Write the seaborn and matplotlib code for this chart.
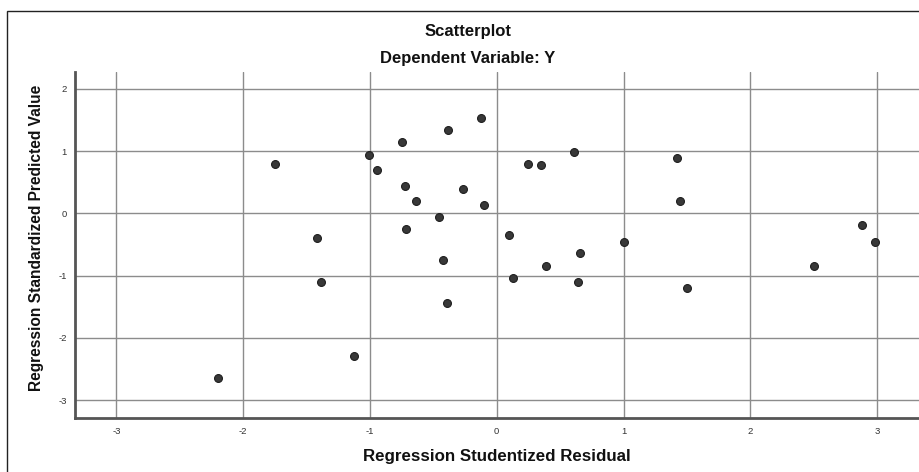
import matplotlib
matplotlib.use("Agg")
import matplotlib.pyplot as plt
import seaborn as sns
import pandas as pd
from matplotlib.patches import Rectangle

# Data
studentized_residual = [
    -1.746, -1.009, -0.944, -0.749, -0.386, -0.726, -0.639, -0.457, -0.713, -1.420,
    -0.268, -0.124, 0.249, 0.349, 0.612, 1.420, 1.448, -0.098, 0.099, 2.879,
    -0.426, -1.386, -0.394, -1.125, -2.196, 1.004, 2.983, 0.660, 0.391, 0.131,
    0.641, 1.503, 2.500,
]
standardized_predicted = [
    0.791, 0.936, 0.695, 1.139, 1.332, 0.443, 0.202, -0.054, -0.247, -0.395,
    0.390, 1.530, 0.791, 0.780, 0.984, 0.888, 0.193, 0.138, -0.348, -0.188,
    -0.750, -1.108, -1.445, -2.290, -2.638, -0.455, -0.455, -0.637, -0.841, -1.044,
    -1.097, -1.194, -0.851,
]
x_ticks = [-3, -2, -1, 0, 1, 2, 3]
y_ticks = [-3, -2, -1, 0, 1, 2]
title_text = "Scatterplot"
subtitle_text = "Dependent Variable: Y"
x_label = "Regression Studentized Residual"
y_label = "Regression Standardized Predicted Value"

df = pd.DataFrame({"resid": studentized_residual, "pred": standardized_predicted})

sns.set_style("white")
plt.rcParams["font.family"] = ["Liberation Sans", "DejaVu Sans"]
plt.rcParams["axes.unicode_minus"] = False

W, H = 919, 472
fig = plt.figure(figsize=(W / 100, H / 100), dpi=100)
fig.patch.set_facecolor("white")

ax = fig.add_axes([75 / W, 1 - 417.7 / H, (W - 75) / W, (417.7 - 71.7) / H])
ax.set_xlim(-3.326, 3.33)
ax.set_ylim(-3.281, 2.273)
ax.set_xticks(x_ticks)
ax.set_yticks(y_ticks)
ax.grid(True, color="#8c8c8c", linewidth=1.0)
ax.set_axisbelow(True)

sns.scatterplot(data=df, x="resid", y="pred", ax=ax, s=32,
                color="#383838", edgecolor="#1e1e1e", linewidth=0.8, zorder=3)

for side in ["top", "right"]:
    ax.spines[side].set_visible(False)
for side in ["left", "bottom"]:
    ax.spines[side].set_color("#555555")
    ax.spines[side].set_linewidth(2.0)

ax.tick_params(axis="both", length=0, labelsize=6.8, labelcolor="#333333")
ax.tick_params(axis="x", pad=7)
ax.tick_params(axis="y", pad=6)

ax.set_xlabel("")
ax.set_ylabel("")
fig.text(496.5 / W, 1 - 456 / H, x_label, ha="center", va="center",
         fontsize=12.2, fontweight="bold", color="#111111")
fig.text(37 / W, 1 - 238 / H, y_label, ha="center", va="center",
         rotation=90, fontsize=11.2, fontweight="bold", color="#111111")
fig.text(468.5 / W, 1 - 31.7 / H, title_text, ha="center", va="center",
         fontsize=12, fontweight="bold", color="#111111")
fig.text(467.5 / W, 1 - 59 / H, subtitle_text, ha="center", va="center",
         fontsize=12, fontweight="bold", color="#111111")

# outer frame (only left and top visible in the crop)
fig.patches.append(Rectangle((7 / W, -0.1), 1.2, 1.1 - 11 / H,
                             transform=fig.transFigure, fill=False,
                             edgecolor="#222222", linewidth=1.0))

fig.savefig("out.png", dpi=100)
